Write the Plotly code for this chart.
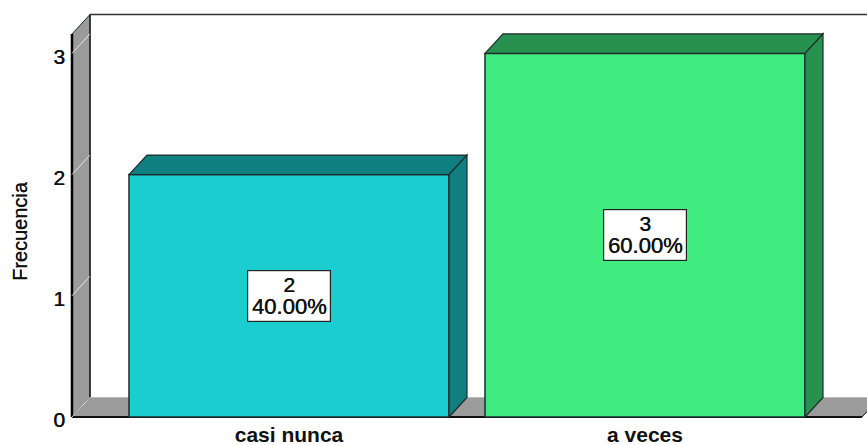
import plotly.graph_objects as go

categories = ["casi nunca", "a veces"]
counts = [2, 3]
percents = ["40.00%", "60.00%"]
front_colors = ["#1BCDCF", "#40EC80"]
side_colors = ["#107F80", "#27924F"]
y_ticks = [0, 1, 2, 3]
axis_title = "Frecuencia"

BAR_W = 320 / 356
DX = 18 / 356
DY = 19.5 / 121.2
FLOOR_L, FLOOR_R = -0.6096, 1.6096
WALL_TOP = 3.16
GRAY = "#9B9B9B"
EDGE = "#1E2A2A"
FONT = "Liberation Sans"
INK = "#111111"
SEMI = "0.45px 0 0 #111111"


def poly(pts, fill, line=EDGE, width=1.2, layer="below"):
    path = "M " + " L ".join(f"{x} {y}" for x, y in pts) + " Z"
    return dict(type="path", path=path, xref="x", yref="y", fillcolor=fill,
                line=dict(color=line, width=width), layer=layer)


def seg(x0, y0, x1, y1, color, width, layer="below"):
    return dict(type="line", x0=x0, y0=y0, x1=x1, y1=y1, xref="x", yref="y",
                line=dict(color=color, width=width), layer=layer)


shapes = [
    poly([(FLOOR_L, 0), (FLOOR_L + DX, DY), (FLOOR_R + DX, DY), (FLOOR_R, 0)], GRAY, line=GRAY, width=0.5),
    poly([(FLOOR_L, 0), (FLOOR_L, WALL_TOP), (FLOOR_L + DX, WALL_TOP + DY), (FLOOR_L + DX, DY)], GRAY, width=1),
    seg(FLOOR_L + DX, WALL_TOP + DY, FLOOR_R + DX, WALL_TOP + DY, "#333333", 1.5),
    seg(FLOOR_L + DX, DY, FLOOR_L + DX, WALL_TOP + DY, "#222222", 1.5),
    seg(FLOOR_L, 0, FLOOR_L, WALL_TOP, "#000000", 2.5),
    seg(FLOOR_L, 0, FLOOR_R, 0, "#111111", 2),
    seg(FLOOR_L + DX, DY, FLOOR_R + DX, DY, "#BDBDBD", 1),
    seg(FLOOR_R, 0, FLOOR_R + DX, DY, "#111111", 1),
]
for t in y_ticks:
    shapes.append(seg(FLOOR_L, t, FLOOR_L + DX, t + DY, "#E8E8E8", 1))

annotations = [dict(x=0, y=1, xref="paper", yref="paper", xshift=-46, yshift=-226,
                    xanchor="center", yanchor="middle",
                    text=axis_title, textangle=-90, showarrow=False,
                    font=dict(family=FONT, size=20, color=INK, shadow="0.2px 0 0 #111111"))]
for i, (n, pct) in enumerate(zip(counts, percents)):
    l, r = i - BAR_W / 2, i + BAR_W / 2
    shapes.append(poly([(l, n), (l + DX, n + DY), (r + DX, n + DY), (r, n)], side_colors[i], layer="above"))
    shapes.append(poly([(r, 0), (r + DX, DY), (r + DX, n + DY), (r, n)], side_colors[i], layer="above"))
    label = f"<span style='font-size:21px'>{n}</span><br><span style='font-size:22px'>{pct}</span>"
    annotations.append(dict(x=i, y=n / 2, xref="x", yref="y", text=label, showarrow=False,
                            width=82, height=50, bgcolor="white", bordercolor="#222222",
                            borderwidth=1.2, borderpad=0, valign="middle",
                            font=dict(family=FONT, size=17, color=INK, shadow=SEMI)))

fig = go.Figure(go.Bar(
    x=[0, 1], y=counts, width=BAR_W,
    marker=dict(color=front_colors, line=dict(color=EDGE, width=1.5)),
    hoverinfo="skip",
))
fig.update_layout(
    width=867, height=445, autosize=False,
    margin=dict(l=66, r=0, t=5, b=25, pad=0),
    paper_bgcolor="white", plot_bgcolor="white", showlegend=False,
    shapes=shapes, annotations=annotations,
    xaxis=dict(range=[(66 - 289) / 356, (867 - 289) / 356], tickmode="array", tickvals=[0, 1],
               ticktext=categories, showgrid=False, zeroline=False, showline=False, ticks="",
               ticklabelstandoff=0, automargin=False,
               tickfont=dict(family=FONT, size=21, color=INK, weight="bold")),
    yaxis=dict(range=[-3 / 121.2, 412 / 121.2], tickmode="array", tickvals=y_ticks,
               showgrid=False, zeroline=False, showline=False, ticks="", ticklabelshift=3,
               automargin=False,
               tickfont=dict(family=FONT, size=21, color=INK, shadow=SEMI)),
)
fig.write_html("out.html", config={"displayModeBar": False},
               post_script="document.body.style.margin='0';")
